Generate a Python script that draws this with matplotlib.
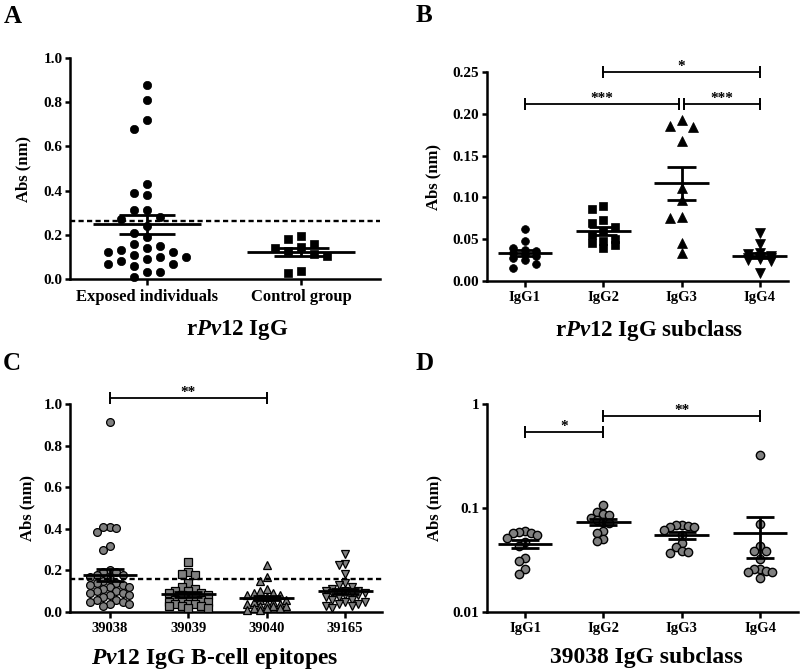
import numpy as np
import matplotlib
matplotlib.use("Agg")
import matplotlib.pyplot as plt
from matplotlib.ticker import FormatStrFormatter, FixedLocator, NullLocator

plt.rcParams['font.family'] = 'Liberation Serif'
plt.rcParams['font.weight'] = 'bold'
plt.rcParams['axes.labelweight'] = 'bold'
plt.rcParams['mathtext.fontset'] = 'custom'
plt.rcParams['mathtext.rm'] = 'Liberation Serif:bold'
plt.rcParams['mathtext.it'] = 'Liberation Serif:italic:bold'
plt.rcParams['mathtext.bf'] = 'Liberation Serif:bold'

# --- A: rPv12 IgG ---
cats_a = ['Exposed individuals', 'Control group']
exposed = [0.88, 0.81, 0.72, 0.68, 0.43, 0.39, 0.38, 0.31, 0.31, 0.28, 0.27,
           0.24, 0.21, 0.19, 0.16, 0.15, 0.14, 0.13, 0.12, 0.12, 0.11, 0.10,
           0.10, 0.09, 0.08, 0.07, 0.07, 0.06, 0.03, 0.03, 0.01]
control = [0.195, 0.18, 0.16, 0.145, 0.14, 0.125, 0.115, 0.105, 0.035, 0.025]
cutoff_a = 0.261

# --- B: rPv12 IgG subclass ---
cats_b = ['IgG1', 'IgG2', 'IgG3', 'IgG4']
rpv_igg1 = [0.062, 0.048, 0.040, 0.037, 0.036, 0.034, 0.032, 0.030, 0.027, 0.025, 0.020, 0.015]
rpv_igg2 = [0.090, 0.086, 0.073, 0.070, 0.065, 0.060, 0.055, 0.050, 0.048, 0.045, 0.043, 0.040]
rpv_igg3 = [0.193, 0.185, 0.184, 0.168, 0.111, 0.097, 0.076, 0.075, 0.045, 0.033]
rpv_igg4 = [0.058, 0.044, 0.033, 0.032, 0.030, 0.029, 0.028, 0.027, 0.026, 0.025, 0.024, 0.010]

# --- C: Pv12 B-cell epitopes ---
cats_c = ['39038', '39039', '39040', '39165']
ep_39038 = [0.915, 0.41, 0.41, 0.405, 0.385, 0.315, 0.30,
            0.20, 0.19, 0.19, 0.18, 0.18, 0.17, 0.16, 0.15, 0.14, 0.14, 0.13, 0.13,
            0.12, 0.12, 0.11, 0.10, 0.10, 0.09, 0.09, 0.08, 0.08, 0.07, 0.06, 0.06,
            0.05, 0.05, 0.04, 0.04, 0.03]
ep_39039 = [0.24, 0.19, 0.185, 0.18, 0.14, 0.12, 0.11, 0.10, 0.10, 0.09, 0.09, 0.08,
            0.08, 0.07, 0.07, 0.06, 0.06, 0.05, 0.05, 0.05, 0.04, 0.04, 0.04, 0.03,
            0.03, 0.03, 0.02, 0.02]
ep_39040 = [0.225, 0.17, 0.15, 0.11, 0.10, 0.09, 0.09, 0.08, 0.08, 0.07, 0.06, 0.06,
            0.05, 0.05, 0.04, 0.04, 0.04, 0.03, 0.03, 0.03, 0.02, 0.02, 0.02, 0.01, 0.01]
ep_39165 = [0.28, 0.23, 0.225, 0.185, 0.14, 0.13, 0.12, 0.10, 0.11, 0.09, 0.09, 0.10,
            0.10, 0.09, 0.09, 0.08, 0.08, 0.07, 0.07, 0.06, 0.06, 0.05, 0.05, 0.04,
            0.04, 0.03, 0.03, 0.02]
cutoff_c = 0.159

# --- D: 39038 IgG subclass ---
sub_igg1 = [0.060, 0.059, 0.058, 0.057, 0.055, 0.052, 0.047, 0.043, 0.033, 0.031, 0.026, 0.023]
sub_igg2 = [0.107, 0.092, 0.087, 0.085, 0.080, 0.076, 0.074, 0.072, 0.060, 0.058, 0.050, 0.048]
sub_igg3 = [0.069, 0.068, 0.067, 0.066, 0.065, 0.062, 0.055, 0.046, 0.042, 0.039, 0.038, 0.037]
sub_igg4 = [0.32, 0.07, 0.043, 0.039, 0.039, 0.032, 0.026, 0.026, 0.025, 0.024, 0.024, 0.021]

GREY = '#808080'


def style_axes(ax, ysize=11, xsize=10.5):
    for s in ['top', 'right']:
        ax.spines[s].set_visible(False)
    for s in ['left', 'bottom']:
        ax.spines[s].set_linewidth(1.8)
    ax.tick_params(width=1.8, length=3.5, pad=2)
    ax.tick_params(axis='y', labelsize=ysize)
    ax.tick_params(axis='x', length=4.5, pad=2.5, labelsize=xsize)


def swarm_x(ax, xc, vals, step_px, gap_px, kmax):
    # GraphPad-like column scatter: points close in y go to side columns
    vals = np.asarray(vals, float)
    ys = ax.transData.transform(np.column_stack([np.full(vals.size, xc), vals]))[:, 1]
    ppu = ax.transData.transform((1, 1))[0] - ax.transData.transform((0, 1))[0]
    cand = [0]
    for k in range(1, kmax + 1):
        cand += [-k, k]
    order = np.argsort(-vals, kind='stable')
    cols = np.zeros(vals.size)
    placed = []
    for i in order:
        best, bestd = 0, -1.0
        for c in cand:
            d = min([abs(py - ys[i]) for pc, py in placed if pc == c], default=1e9)
            if d >= gap_px:
                best = c
                break
            if d > bestd + 0.5:
                best, bestd = c, d
        placed.append((best, ys[i]))
        cols[i] = best
    return xc + cols * step_px / ppu


def draw_group(ax, xc, vals, marker, ms, fc, mew, step_px, gap_px, kmax):
    xs = swarm_x(ax, xc, vals, step_px, gap_px, kmax)
    ax.plot(xs, vals, ls='none', marker=marker, ms=ms, mfc=fc, mec='k',
            mew=mew, clip_on=False, zorder=3)
    m = np.mean(vals)
    sem = np.std(vals, ddof=1) / np.sqrt(len(vals))
    ax.hlines(m, xc - 0.35, xc + 0.35, color='k', lw=2, zorder=4)
    ax.vlines(xc, m - sem, m + sem, color='k', lw=2, zorder=4)
    ax.hlines([m - sem, m + sem], xc - 0.18, xc + 0.18, color='k', lw=2, zorder=4)


def bracket(ax, x1, x2, y, label):
    ax.plot([x1, x2], [y, y], color='k', lw=1.3, marker='|', ms=9, mew=1.4,
            clip_on=False, zorder=5)
    ax.annotate(label, (0.5 * (x1 + x2), y), xytext=(0, 1.5),
                textcoords='offset points', ha='center', va='baseline',
                fontsize=11, annotation_clip=False)


fig = plt.figure(figsize=(8, 6.72), dpi=100)
ax_a = fig.add_axes([0.0875, 0.5848, 0.3875, 0.3289])
ax_b = fig.add_axes([0.60875, 0.5818, 0.37625, 0.3110])
ax_c = fig.add_axes([0.0875, 0.0893, 0.39, 0.3095])
ax_d = fig.add_axes([0.60875, 0.0893, 0.38875, 0.3095])

# A
ax_a.set_xlim(-0.5, 1.51)
ax_a.set_ylim(0, 1.0)
draw_group(ax_a, 0, exposed, 'o', 6, 'k', 0.5, 13, 11, 3)
draw_group(ax_a, 1, control, 's', 5.8, 'k', 0.5, 13, 9, 2)
ax_a.axhline(cutoff_a, color='k', lw=1.7, dashes=(2.2, 1.4), zorder=5)
ax_a.set_xticks(range(len(cats_a)))
ax_a.set_xticklabels(cats_a)
ax_a.set_yticks(np.arange(0, 1.01, 0.2))
ax_a.yaxis.set_major_formatter(FormatStrFormatter('%.1f'))
ax_a.set_ylabel('Abs (nm)', fontsize=12)
ax_a.set_xlabel(r'r$\mathit{Pv}$12 IgG', fontsize=16.5)

# B
ax_b.set_xlim(-0.485, 3.36)
ax_b.set_ylim(0, 0.25)
for i, (vals, mk, ms) in enumerate([(rpv_igg1, 'o', 5.6), (rpv_igg2, 's', 5.3),
                                    (rpv_igg3, '^', 6.5), (rpv_igg4, 'v', 6.5)]):
    draw_group(ax_b, i, vals, mk, ms, 'k', 0.5, 11.5, 9, 1)
bracket(ax_b, 1, 3, 0.25, '*')
bracket(ax_b, 0, 1.97, 0.212, '***')
bracket(ax_b, 2.03, 3, 0.212, '***')
ax_b.set_xticks(range(len(cats_b)))
ax_b.set_xticklabels(cats_b)
ax_b.set_yticks(np.arange(0, 0.251, 0.05))
ax_b.yaxis.set_major_formatter(FormatStrFormatter('%.2f'))
ax_b.set_ylabel('Abs (nm)', fontsize=12)
ax_b.set_xlabel(r'r$\mathit{Pv}$12 IgG subclass', fontsize=16.5)

# C
ax_c.set_xlim(-0.51, 3.47)
ax_c.set_ylim(0, 1.0)
for i, (vals, mk, ms) in enumerate([(ep_39038, 'o', 5.6), (ep_39039, 's', 5.2),
                                    (ep_39040, '^', 6.3), (ep_39165, 'v', 6.3)]):
    draw_group(ax_c, i, vals, mk, ms, GREY, 0.9, 6.5, 7, 3)
ax_c.axhline(cutoff_c, color='k', lw=1.7, dashes=(2.2, 1.4), zorder=5)
bracket(ax_c, 0, 2, 1.027, '**')
ax_c.set_xticks(range(len(cats_c)))
ax_c.set_xticklabels(cats_c)
ax_c.set_yticks(np.arange(0, 1.01, 0.2))
ax_c.yaxis.set_major_formatter(FormatStrFormatter('%.1f'))
ax_c.set_ylabel('Abs (nm)', fontsize=12)
ax_c.set_xlabel(r'$\mathit{Pv}$12 IgG B-cell epitopes', fontsize=17)

# D
ax_d.set_yscale('log')
ax_d.set_xlim(-0.485, 3.485)
ax_d.set_ylim(0.01, 1)
for i, vals in enumerate([sub_igg1, sub_igg2, sub_igg3, sub_igg4]):
    draw_group(ax_d, i, vals, 'o', 6, GREY, 1.0, 6.0, 7, 3)
bracket(ax_d, 0, 1, 0.541, '*')
bracket(ax_d, 1, 3, 0.772, '**')
ax_d.set_xticks(range(len(cats_b)))
ax_d.set_xticklabels(cats_b)
ax_d.yaxis.set_major_locator(FixedLocator([0.01, 0.1, 1]))
ax_d.yaxis.set_minor_locator(NullLocator())
ax_d.set_yticklabels(['0.01', '0.1', '1'])
ax_d.set_ylabel('Abs (nm)', fontsize=12)
ax_d.set_xlabel('39038 IgG subclass', fontsize=17)

for ax, lx, ly, xx, xs in [(ax_a, -0.123, -0.176, 0.54, 12),
                           (ax_b, -0.15, -0.177, 0.54, 10.5),
                           (ax_c, -0.112, -0.165, 0.465, 10.5),
                           (ax_d, -0.145, -0.168, 0.514, 10.5)]:
    style_axes(ax, ysize=11, xsize=xs)
    ax.yaxis.set_label_coords(lx, 0.5)
    ax.xaxis.set_label_coords(xx, ly)

for letter, x, y in [('A', 0.005, 0.992), ('B', 0.52, 0.994),
                     ('C', 0.003, 0.476), ('D', 0.52, 0.476)]:
    fig.text(x, y, letter, fontsize=18, fontweight='bold', ha='left', va='top')

fig.savefig('out.png', dpi=100)
